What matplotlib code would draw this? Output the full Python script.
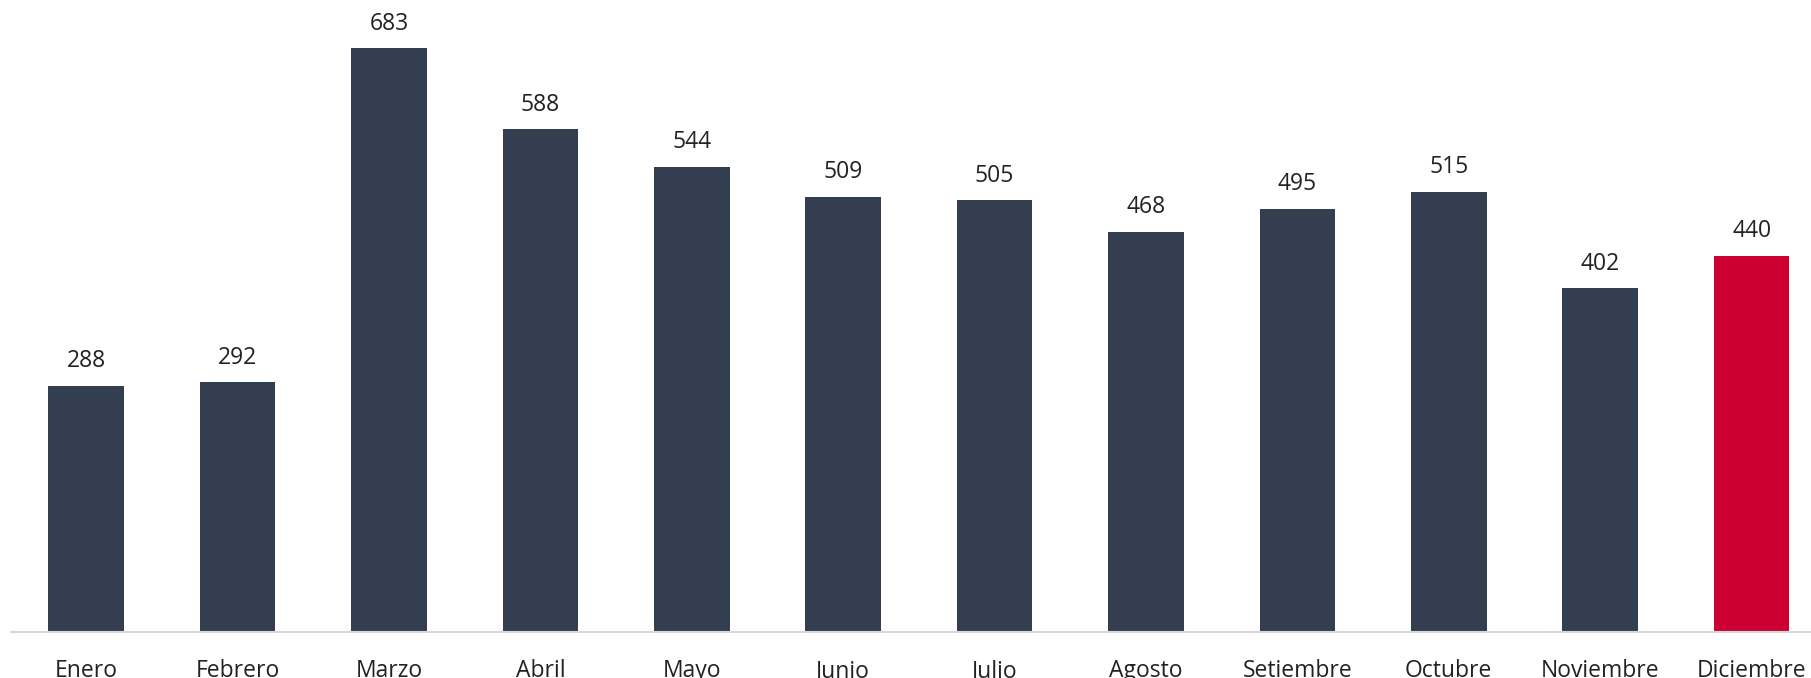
import matplotlib.pyplot as plt

meses = ['Enero', 'Febrero', 'Marzo', 'Abril', 'Mayo', 'Junio', 'Julio',
         'Agosto', 'Setiembre', 'Octubre', 'Noviembre', 'Diciembre']
valores = [288, 292, 683, 588, 544, 509, 505, 468, 495, 515, 402, 440]

plt.rcParams['font.family'] = ['Open Sans', 'DejaVu Sans']

colores = ['#333f50'] * (len(valores) - 1) + ['#cc0033']

fig = plt.figure(figsize=(18.11, 6.78), dpi=100)
ax = fig.add_axes([10.5 / 1811, 46.3 / 678, 1 - 10.5 / 1811, 631.7 / 678])

x = range(len(meses))
barras = ax.bar(x, valores, width=0.5, color=colores)

for xi, v in zip(x, valores):
    ax.annotate(str(v), (xi, v), xytext=(0, 9), textcoords='offset points',
                ha='center', va='bottom', fontsize=16.5, color='#222222')

ax.set_xlim(-0.5, (1811 - 86.2) / 151.4)
ax.set_ylim(0, 739.2)
ax.set_xticks(list(x))
ax.set_xticklabels(meses, fontsize=16.5, color='#222222')
ax.tick_params(axis='x', length=0, pad=20)
ax.set_yticks([])
for lado in ['top', 'right', 'left']:
    ax.spines[lado].set_visible(False)
ax.spines['bottom'].set_color('#d9d9d9')
ax.spines['bottom'].set_linewidth(1.5)

plt.savefig('out.png', dpi=100)
